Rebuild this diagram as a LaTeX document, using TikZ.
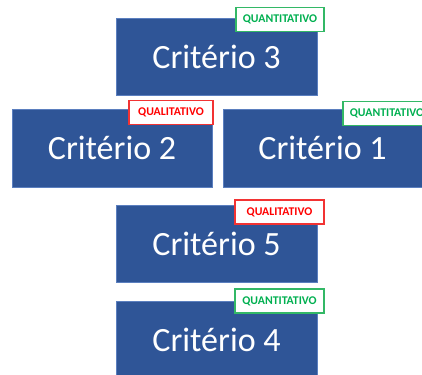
\documentclass[tikz,border=0pt]{standalone}
\usepackage{fontspec}
\setmainfont{Carlito}
\definecolor{boxblue}{HTML}{2F5597}
\definecolor{boxline}{HTML}{5B7FBF}
\definecolor{qgreen}{HTML}{00B050}
\definecolor{qgreenline}{HTML}{33B866}
\definecolor{qred}{HTML}{FF0000}
\definecolor{qredline}{HTML}{F23333}
\tikzset{
  crit/.style={draw=boxline, line width=0.8pt, fill=boxblue, text=white,
    font=\fontsize{34}{40}\selectfont, inner sep=0pt},
  tagbox/.style={fill=white, line width=1.2pt, inner sep=0pt,
    minimum height=24pt, font=\bfseries\fontsize{11.8}{13}\selectfont},
  quant/.style={tagbox, draw=qgreenline, text=qgreen},
  qual/.style={tagbox, draw=qredline, text=qred}
}
\begin{document}
\begin{tikzpicture}[x=1pt,y=-1pt]
\useasboundingbox (0,0) rectangle (422,374);
\clip (0,0) rectangle (422,374);
\node[crit, minimum width=201pt, minimum height=77pt] (c3) at (216.5,56.5) {Critério 3};
\node[crit, minimum width=200pt, minimum height=78pt] (c2) at (112,148) {Critério 2};
\node[crit, minimum width=199pt, minimum height=78pt] (c1) at (322.5,148) {Critério 1};
\node[crit, minimum width=201pt, minimum height=77pt] (c5) at (216.5,243.5) {Critério 5};
\node[crit, minimum width=201pt, minimum height=77pt] (c4) at (216.5,339.5) {Critério 4};
\node[quant, minimum width=88pt] (t3) at (280,19.5) {QUANTITATIVO};
\node[qual, minimum width=84pt] (t2) at (171,112.5) {QUALITATIVO};
\node[quant, minimum width=88pt] (t1) at (387,113.5) {QUANTITATIVO};
\node[qual, minimum width=89pt] (t5) at (279.5,212) {QUALITATIVO};
\node[quant, minimum width=89pt] (t4) at (279.5,301) {QUANTITATIVO};
\end{tikzpicture}
\end{document}
